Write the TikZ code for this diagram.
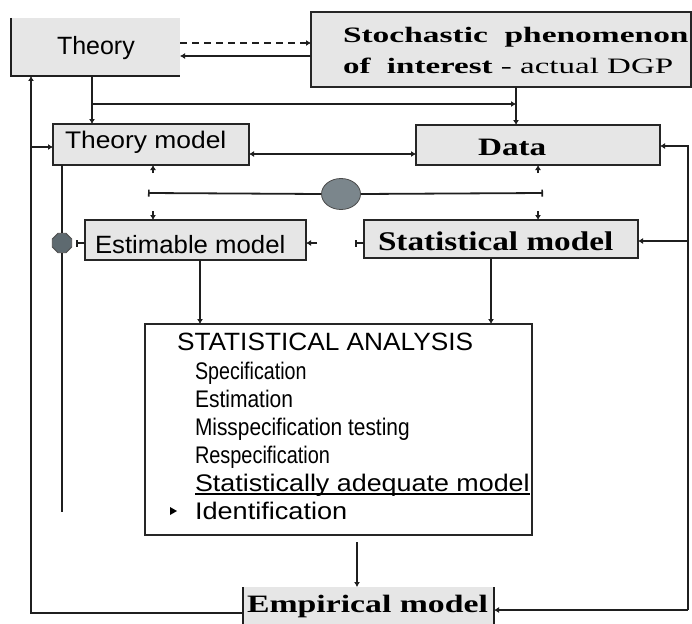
\documentclass[tikz,border=0pt]{standalone}
\usepackage{fontspec}
\setmainfont{Liberation Serif}
\setsansfont{Liberation Sans}
\usetikzlibrary{arrows.meta,shapes.geometric}
\definecolor{boxgray}{HTML}{E6E6E6}
\definecolor{ellgray}{HTML}{7B868C}
\definecolor{octgray}{HTML}{5E6A70}
\begin{document}
\begin{tikzpicture}[x=1pt,y=-1pt,
  ln/.style={line width=1.8pt, draw=black!88},
  arr/.style={-{Latex[length=5pt,width=6pt]}},
  barstart/.style={{Bar[width=7pt,line width=1.6pt]}-},
  bx/.style={fill=boxgray, draw=black!85, line width=1.8pt, inner sep=0pt, outer sep=0pt},
  lbl/.style={anchor=base west, inner sep=0pt, outer sep=0pt},
  sans/.style={font=\sffamily\fontsize{25}{30}\selectfont},
  small/.style={font=\sffamily\fontsize{24}{28}\selectfont},
  serifb/.style={font=\rmfamily\bfseries\fontsize{25}{30}\selectfont}]
\useasboundingbox (0,0) rectangle (692,623);

% boxes
\node[bx,draw=none,minimum width=169pt,minimum height=58pt] (theory) at (95.5,47) {};
\draw[ln] (theory.north west) -- (theory.south west) -- (theory.south east);
\node[bx,minimum width=380pt,minimum height=75pt] (stoch) at (501,49.5) {};
\node[bx,minimum width=196pt,minimum height=41pt] (tmodel) at (151,144.5) {};
\node[bx,minimum width=244pt,minimum height=40pt] (data) at (538,145) {};
\node[bx,minimum width=221pt,minimum height=40pt] (est) at (195.5,240) {};
\node[bx,minimum width=274pt,minimum height=38pt] (stat) at (501,239) {};
\node[draw=black!85,line width=1.8pt,fill=white,minimum width=387pt,minimum height=211pt,inner sep=0pt,outer sep=0pt] (anal) at (338.5,429.5) {};
\node[bx,draw=none,minimum width=251pt,minimum height=40pt] (emp) at (368.5,607) {};
\draw[ln] (emp.north west) -- (emp.south west);
\draw[ln] (emp.north east) -- (emp.south east);
\node[ellipse,fill=ellgray,draw=black!70,line width=0.8pt,minimum width=39pt,minimum height=31pt,inner sep=0pt] (ell) at (341,194) {};
\node[regular polygon,regular polygon sides=8,fill=octgray,draw=black!70,line width=0.8pt,minimum size=21pt,inner sep=0pt] (oct) at (62,243) {};

% texts
\node[lbl,sans] (theorytxt) at (57,55) {Theory};
\node[lbl,font=\rmfamily\fontsize{22}{26}\selectfont] (stoch1) at (343,43) {\scalebox{1.52}[1]{\bfseries Stochastic\ \ phenomenon}};
\node[lbl,font=\rmfamily\fontsize{22}{26}\selectfont] (stoch2) at (343,74) {\scalebox{1.5}[1]{\bfseries of\ \ interest\mdseries\ - actual DGP}};
\node[lbl,font=\sffamily\fontsize{24}{28}\selectfont] (tmodeltxt) at (65,148) {\scalebox{1.1}[1]{Theory model}};
\node[lbl,serifb] (datatxt) at (478,155) {\scalebox{1.33}[1]{Data}};
\node[lbl,sans] (esttxt) at (95,253) {\scalebox{1.03}[1]{Estimable model}};
\node[lbl,font=\rmfamily\bfseries\fontsize{27}{30}\selectfont] (stattxt) at (378,250) {\scalebox{1.23}[1]{Statistical model}};
\node[lbl,serifb] (emptxt) at (247,612) {\scalebox{1.35}[1]{Empirical model}};

\node[lbl,sans] (a0) at (177,350) {\scalebox{1.05}[1]{STATISTICAL ANALYSIS}};
\node[lbl,small] (a1) at (195,379) {\scalebox{0.82}[1]{Specification}};
\node[lbl,small] (a2) at (195,407) {\scalebox{0.875}[1]{Estimation}};
\node[lbl,small] (a3) at (195,435) {\scalebox{0.87}[1]{Misspecification testing}};
\node[lbl,small] (a4) at (195,463) {\scalebox{0.83}[1]{Respecification}};
\node[lbl,small] (a5) at (195,491) {\scalebox{1.12}[1]{Statistically adequate model}};
\node[lbl,small] (a6) at (195,519) {\scalebox{1.13}[1]{Identification}};
\draw[line width=1.3pt] ([yshift=-3pt]a5.base west) -- ([yshift=-3pt]a5.base east);
\fill (170,507) -- (177,511) -- (170,515) -- cycle;

% coordinates
\coordinate (j1) at (92,104);
\coordinate (j2) at (516,104);
\coordinate (hl) at (148,193);
\coordinate (hr) at (543,193);
\coordinate (lb) at (31,613);
\coordinate (rt) at (688,146);
\coordinate (rb) at (688,610);
\coordinate (rs) at (688,241);
\coordinate (lend) at (62,512);
\coordinate (lm) at (31,147);

% connectors
\draw[ln,dashed,dash pattern=on 7pt off 5pt,arr] (theory.east |- 0,43) -- (stoch.west |- 0,43);
\draw[ln,arr] (stoch.west |- 0,56) -- (theory.east |- 0,56);
\draw[ln,arr] (theory.south -| j1) -- (tmodel.north -| j1);
\draw[ln,arr] (j1) -- (j2);
\draw[ln,arr] (stoch.south -| j2) -- (data.north -| j2);
\draw[ln,{Latex[length=5pt,width=6pt]}-{Latex[length=5pt,width=6pt]}] (tmodel.east |- 0,154) -- (data.west |- 0,154);

\draw[ln,barstart] (hl) -- (ell.west);
\draw[ln,-{Bar[width=7pt,line width=1.6pt]}] (ell.east) -- (hr);
\draw[ln,arr] (153,173) -- (tmodel.south -| 153,0);
\draw[ln,arr] (538,173) -- (data.south -| 538,0);
\draw[ln,arr] (153,211) -- (est.north -| 153,0);
\draw[ln,arr] (538,211) -- (stat.north -| 538,0);
\draw[ln,arr] (317,243) -- (est.east |- 0,243);
\draw[ln,barstart] (355,243) -- (stat.west |- 0,243);

\draw[ln] (tmodel.south -| oct) -- (oct.north);
\draw[ln] (oct.south) -- (lend);
\draw[ln,barstart] (76,243) -- (est.west |- oct);

\draw[ln,arr] (emp.west |- lb) -- (lb) -- (theory.south -| lb);
\draw[ln,arr] (lm) -- (tmodel.west |- lm);
\draw[ln,arr] (rb) -- (rt) -- (data.east |- rt);
\draw[ln,arr] (rb) -- (emp.east |- rb);
\draw[ln,arr] (rs) -- (stat.east |- rs);

\draw[ln,arr] (est.south -| 200,0) -- (anal.north -| 200,0);
\draw[ln,arr] (stat.south -| 491,0) -- (anal.north -| 491,0);
\draw[ln,arr,shorten <=7pt] (anal.south -| 357,0) -- (emp.north -| 357,0);
\end{tikzpicture}
\end{document}
